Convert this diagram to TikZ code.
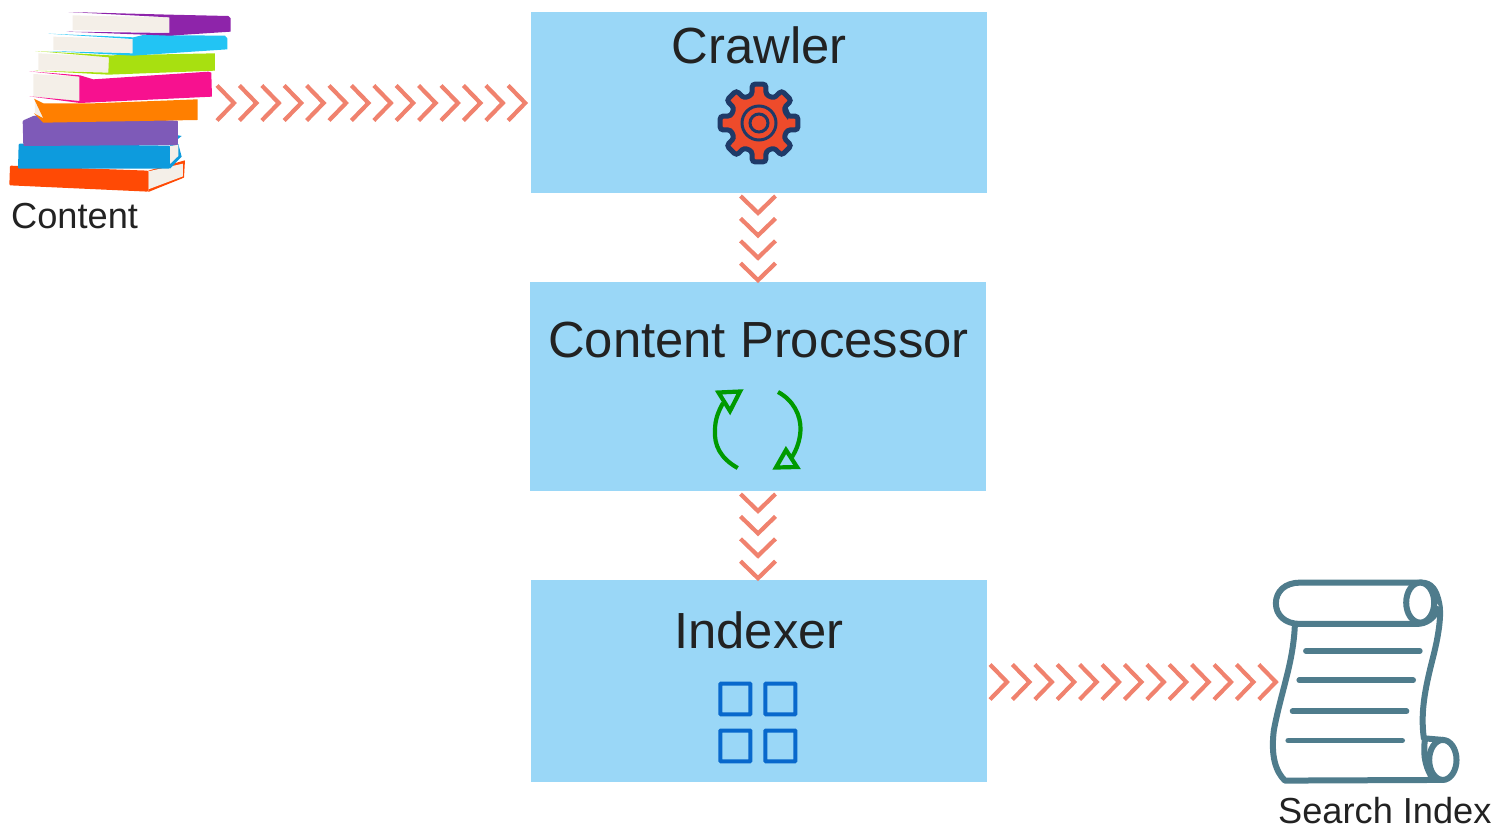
\documentclass[tikz,border=0pt]{standalone}
\usepackage{fontspec}
\setmainfont{Liberation Sans}
\usetikzlibrary{decorations.markings}
\definecolor{boxblue}{HTML}{9AD7F7}
\definecolor{chev}{HTML}{F0826E}
\definecolor{ink}{HTML}{222222}
\definecolor{gearnavy}{HTML}{1F3A68}
\definecolor{gearred}{HTML}{EE4B2B}
\definecolor{cyclegreen}{HTML}{009A00}
\definecolor{gridblue}{HTML}{0868CC}
\definecolor{scrollc}{HTML}{4F7C8C}
\definecolor{pagec}{HTML}{F4EFE8}
\definecolor{bkred}{HTML}{FF4A05}
\definecolor{bkblue}{HTML}{0D9BDD}
\definecolor{bkviolet}{HTML}{7E5AB8}
\definecolor{bkorange}{HTML}{FF7F00}
\definecolor{bkpink}{HTML}{F7118F}
\definecolor{bkgreen}{HTML}{A8E010}
\definecolor{bkcyan}{HTML}{22C4F4}
\definecolor{bkpurple}{HTML}{8E24AA}
\tikzset{
  boxn/.style={fill=boxblue,draw=none,inner sep=0pt,outer sep=0pt,minimum width=456pt},
  boxtitle/.style={anchor=base,text=ink,inner sep=0pt,font=\fontsize{50.8}{60}\selectfont},
  caption/.style={anchor=base west,text=ink,inner sep=0pt,font=\fontsize{36.2}{44}\selectfont},
  chevrons/.style={decorate,decoration={markings,
    mark=between positions 0 and -12pt step 22.4pt with {
      \draw[chev,line width=4.2pt,miter limit=4] (3,-17.5) -- (20,0) -- (3,17.5);}}},
  cyc/.style={draw=cyclegreen,line width=4.2pt},
  cell/.style={draw=gridblue,line width=4pt,rounded corners=0.6pt},
  scr/.style={draw=scrollc,line width=6pt,line join=round},
  scrline/.style={draw=scrollc,line width=5.6pt,line cap=round},
  pages/.style={fill=pagec,draw=none},
}
\begin{document}
\begin{tikzpicture}[x=1pt,y=-1pt]
\useasboundingbox (0,0) rectangle (1495,828);

% boxes
\node[boxn,minimum height=181pt] (crawler) at (759,102.5) {};
\node[boxn,minimum height=209pt] (processor) at (758,386.5) {};
\node[boxn,minimum height=202pt] (indexer) at (759,681) {};
\node[boxtitle] (crawlerlabel) at (759,63.5) {Crawler};
\node[boxtitle] (processorlabel) at (758.5,357) {Content Processor};
\node[boxtitle] (indexerlabel) at (759,648.5) {Indexer};

% captions
\node[caption] (contentlabel) at (11,228) {Content};
\node[caption] (searchlabel) at (1278,823) {Search Index};

% books
\begin{scope}[x=0.3333pt,y=-0.3333pt]
  % red
  \fill[bkred] (445,512) -- (555,481) -- (552,533) -- (445,576) -- cycle;
  \fill[pages] (445,514) -- (549,491) -- (549,529) -- (445,568) -- cycle;
  \fill[bkred,rounded corners=1pt] (30,497) -- (445,512) -- (445,575) -- (28,556) -- cycle;
  % blue
  \fill[bkblue] (510,436) -- (535,432) -- (545,470) -- (510,506) -- cycle;
  \fill[pages] (510,438) -- (535,434) -- (535,468) -- (510,492) -- cycle;
  \fill[bkblue,rounded corners=1pt] (56,431) -- (510,437) -- (510,506) -- (54,506) -- cycle;
  % violet
  \fill[bkblue] (530,405) -- (545,408) -- (530,420) -- cycle;
  \fill[bkviolet,rounded corners=1pt] (68,362) -- (102,347) -- (534,362) -- (534,435) -- (70,438) -- cycle;
  % orange
  \fill[pages] (105,298) -- (132,310) -- (132,358) -- (105,340) -- cycle;
  \fill[bkorange] (102,296) -- (130,310) -- (280,310) -- (593,298) -- (593,360) -- (130,368) -- (102,340) -- (130,355) -- cycle;
  % pink
  \fill[pages] (100,222) -- (240,230) -- (240,304) -- (100,290) -- cycle;
  \fill[bkpink] (88,214) -- (240,226) -- (280,238) -- (625,215) -- (634,218) -- (636,290) -- (240,309) -- (88,289) -- (238,303) -- (238,230) -- cycle;
  % green
  \fill[pages] (115,160) -- (328,170) -- (328,218) -- (115,210) -- cycle;
  \fill[bkgreen] (106,153) -- (330,166) -- (645,160) -- (645,212) -- (325,224) -- (104,212) -- (325,218) -- (327,172) -- cycle;
  % cyan
  \fill[pages] (160,110) -- (400,117) -- (400,160) -- (160,150) -- cycle;
  \fill[bkcyan] (145,101) -- (400,112) -- (430,105) -- (675,107) -- (682,115) -- (682,148) -- (400,167) -- (145,153) -- (398,160) -- (398,117) -- cycle;
  % purple top
  \fill[pages] (218,46) -- (510,52) -- (510,98) -- (218,90) -- cycle;
  \fill[bkpurple] (206,36) -- (510,44) -- (685,48) -- (692,55) -- (692,95) -- (510,107) -- (200,95) -- (508,99) -- (508,52) -- cycle;
\end{scope}

% gear
\begin{scope}[shift={(759,123)}]
  \filldraw[fill=gearred,draw=gearnavy,line width=5pt,rounded corners=3pt]
    (-14:29) \foreach \a in {0,45,...,315} {
      -- ({\a-14}:29) -- ({\a-10}:39.5) -- ({\a+10}:39.5) -- ({\a+14}:29)
    } -- cycle;
  \draw[gearnavy,line width=3pt] (0,0) circle[radius=17];
  \draw[gearnavy,line width=3pt] (0,0) circle[radius=9];
\end{scope}

% cycle arrows
\draw[cyc] (737.7,468) .. controls (720,458) and (714,445) .. (715,430) .. controls (715,420) and (718,412) .. (723,403);
\draw[cyc,miter limit=6] (718.5,392.5) -- (740,391.5) -- (730,411) -- cycle;
\draw[cyc] (778,392) .. controls (793,400) and (801,415) .. (800.5,430) .. controls (800,440) and (797,449) .. (792,457);
\draw[cyc,miter limit=6] (786,450) -- (797,467) -- (776,467.5) -- cycle;

% grid
\draw[cell] (720.3,683.7) rectangle (750.3,714.3);
\draw[cell] (765.3,683.7) rectangle (795.3,714.3);
\draw[cell] (720.3,730.5) rectangle (750.3,761.3);
\draw[cell] (765.3,730.5) rectangle (795.3,761.3);

% scroll
\begin{scope}[x=0.3333pt,y=-0.3333pt,shift={(3750,1710)}]
  \filldraw[fill=white,scr] (135,165) .. controls (130,280) and (95,360) .. (72,480)
    .. controls (62,560) and (78,605) .. (105,632) -- (579,630) -- (579,510) -- (522,505)
    .. controls (510,420) and (530,340) .. (550,260)
    .. controls (568,190) and (575,130) .. (568,100)
    .. controls (560,60) and (545,38) .. (515,38) -- cycle;
  \filldraw[fill=white,scr] (515,38) -- (150,38)
    .. controls (105,38) and (78,65) .. (78,100)
    .. controls (78,135) and (105,162) .. (150,162) -- (500,162)
    .. controls (530,162) and (555,145) .. (568,110);
  \draw[scr,fill=white] (511,98) ellipse[x radius=42,y radius=60];
  \draw[scr] (525,512) .. controls (518,560) and (530,600) .. (550,628);
  \draw[scr,fill=white] (579,570) ellipse[x radius=41,y radius=60];
  \draw[scrline] (168,243) -- (510,243);
  \draw[scrline] (148,331) -- (490,331);
  \draw[scrline] (128,424) -- (470,424);
  \draw[scrline] (115,512) -- (457,512);
\end{scope}

% connectors
\coordinate (contentOut) at (214,103);
\coordinate (scrollIn) at (1278,682);
\path[chevrons] (contentOut) -- (crawler.west |- contentOut);
\path[chevrons] (crawler.south -| processor.north) -- (processor.north);
\path[chevrons] (processor.south) -- (indexer.north -| processor.south);
\path[chevrons] (indexer.east |- scrollIn) -- (scrollIn);
\end{tikzpicture}
\end{document}
